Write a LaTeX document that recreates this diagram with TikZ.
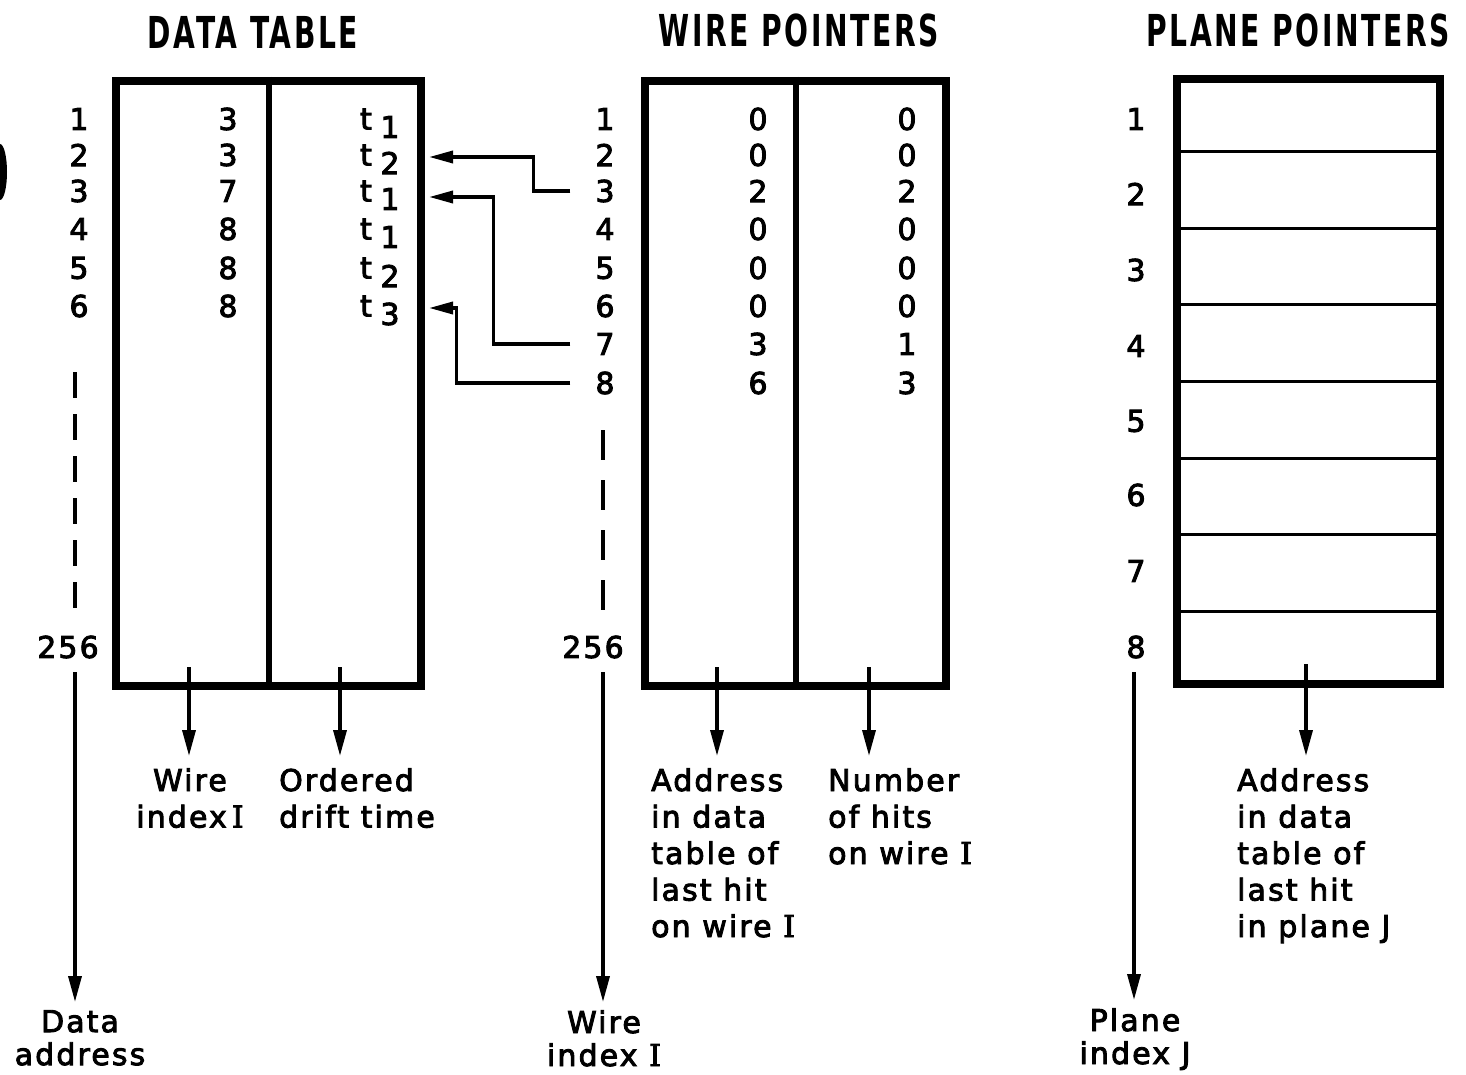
\documentclass[tikz,border=0pt]{standalone}
\usepackage{fontspec}
\setmainfont{DejaVu Sans}[LetterSpace=7,FakeBold=3]
\newfontfamily\headfont{DejaVu Sans}[FakeStretch=0.64,LetterSpace=6]
\newfontfamily\romanfont{DejaVu Serif}[FakeBold=3]
\newcommand{\idxI}{{\romanfont I}}
\usetikzlibrary{arrows.meta,positioning,calc}

\begin{document}
\begin{tikzpicture}[x=1pt,y=-1pt,
  title/.style={font=\headfont\bfseries\fontsize{44}{50}\selectfont},
  num/.style={font=\fontsize{30}{36}\selectfont,inner sep=0pt},
  lbl/.style={font=\fontsize{30}{36.5}\selectfont,inner sep=0pt},
  axlbl/.style={font=\fontsize{30}{33}\selectfont,inner sep=0pt,align=center,anchor=north},
  tablebox/.style={draw,line width=8pt,inner sep=0pt},
  divider/.style={line width=6pt},
  rule/.style={line width=3pt},
  arr/.style={-{Triangle[length=26pt,width=13pt]},line width=3.5pt},
  link/.style={-{Triangle[length=24pt,width=12pt]},line width=3.5pt},
  dashes/.style={line width=3.5pt},
]
  \useasboundingbox (0,0) rectangle (1466,1075);
  \fill (0,172) ellipse (7 and 28);

  % Data table
  \node[title] (dttl) at (253,32) {DATA TABLE};
  \node[tablebox,minimum width=305pt,minimum height=605pt] (dt) at (268.5,383.5) {};
  \draw[divider] (dt.north) -- (dt.south);
  \foreach \y/\w/\t [count=\i] in {119/3/1,155/3/2,191/7/1,229/8/1,268/8/2,306/8/3} {
    \node[num] (da\i) at (79,\y) {\i};
    \node[num] (dw\i) at (228,\y) {\w};
    \node[num] (tt\i) at (366,\y) {t};
    \node[num] (ts\i) at (390,\y+8) {\t};
  }
  \draw[dashes,dash pattern=on 26pt off 16pt] (75,372) -- (75,610);
  \node[num] (d256) at (68,647) {256};
  \coordinate (dax) at (75,672);
  \node[axlbl] (dlab) at (80,1010) {Data\\address};
  \draw[arr,shorten >=8pt] (dax) -- (dax |- dlab.north);

  \coordinate (c1) at (189,667);
  \coordinate (c2) at (340,667);
  \node[lbl,align=center,anchor=north] (l1) at (190,768) {Wire\\index\,\idxI};
  \node[lbl,align=left,anchor=north west] (l2) at (279,768) {Ordered\\drift time};
  \draw[arr,shorten >=12pt] (c1) -- (c1 |- l1.north);
  \draw[arr,shorten >=12pt] (c2) -- (c2 |- l2.north);

  % Wire pointers
  \node[title] (wttl) at (799,30) {WIRE POINTERS};
  \node[tablebox,minimum width=301pt,minimum height=605pt] (wp) at (795.5,383.5) {};
  \draw[divider] (wp.north) -- (wp.south);
  \foreach \y/\a/\n [count=\i] in {119/0/0,155/0/0,191/2/2,229/0/0,268/0/0,306/0/0,344/3/1,383/6/3} {
    \node[num] (w\i) at (605,\y) {\i};
    \node[num] (wa\i) at (758,\y) {\a};
    \node[num] (wn\i) at (907,\y) {\n};
  }
  \draw[dashes,dash pattern=on 30pt off 20pt] (603,430) -- (603,610);
  \node[num] (w256) at (593,647) {256};
  \coordinate (wax) at (603,672);
  \node[axlbl] (wlab) at (604,1010) {Wire\\index \idxI};
  \draw[arr,shorten >=8pt] (wax) -- (wax |- wlab.north);

  \coordinate (c3) at (717,667);
  \coordinate (c4) at (869,667);
  \node[lbl,align=left,anchor=north west] (l3) at (651,768) {Address\\in data\\table of\\last hit\\on wire \idxI};
  \node[lbl,align=left,anchor=north west] (l4) at (828,768) {Number\\of hits\\on wire \idxI};
  \draw[arr,shorten >=12pt] (c3) -- (c3 |- l3.north);
  \draw[arr,shorten >=12pt] (c4) -- (c4 |- l4.north);

  % Links into the data table
  \coordinate (dte) at ([xshift=4pt]dt.east);
  \draw[link] ([xshift=-25pt]w3.west) -- ++(-37,0) |- ([yshift=-2pt]dte |- tt2);
  \draw[link] ([xshift=-25pt]w7.west) -- ++(-77,0) |- ([yshift=-6pt]dte |- tt3);
  \draw[link] ([xshift=-25pt]w8.west) -- ++(-114,0) |- ([yshift=-2pt]dte |- tt6);

  % Plane pointers
  \node[title] (pttl) at (1298,30) {PLANE POINTERS};
  \node[tablebox,minimum width=263pt,minimum height=605pt] (pp) at (1308.5,381.5) {};
  \foreach \k in {1,...,7}
    \draw[rule] ($(pp.north west)!\k/8!(pp.south west)$) -- ($(pp.north east)!\k/8!(pp.south east)$);
  \foreach \y [count=\i] in {119,194,270,346,421,495,571,647}
    \node[num] (p\i) at (1136,\y) {\i};
  \coordinate (pax) at (1134,672);
  \node[axlbl] (plab) at (1135,1008) {Plane\\index J};
  \draw[arr,shorten >=8pt] (pax) -- (pax |- plab.north);

  \coordinate (c5) at (1306,664);
  \node[lbl,align=left,anchor=north west] (l5) at (1237,768) {Address\\in data\\table of\\last hit\\in plane J};
  \draw[arr,shorten >=12pt] (c5) -- (c5 |- l5.north);
\end{tikzpicture}
\end{document}
